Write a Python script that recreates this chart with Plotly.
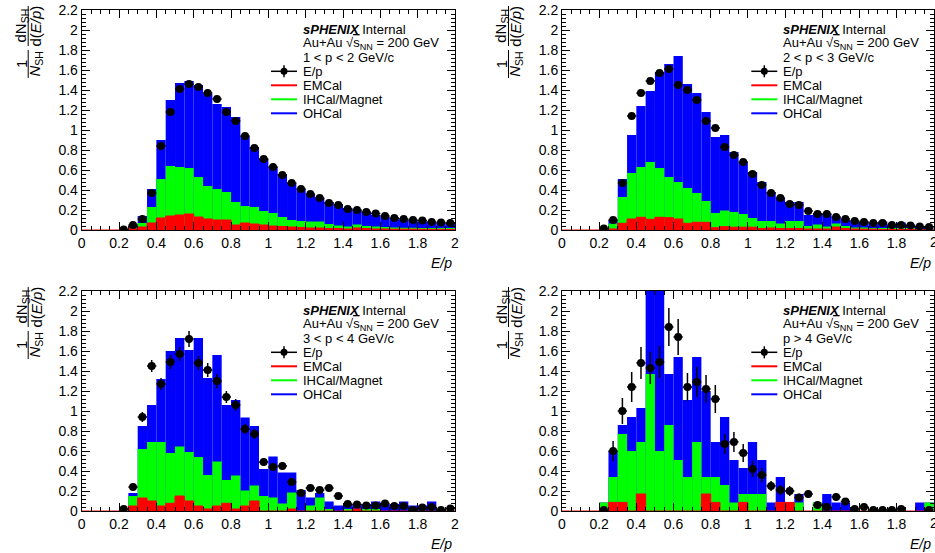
import plotly.graph_objects as go

W, H = 935, 553
bin_width = 0.05
n_bins = 40
bin_lo = [round(i * bin_width, 2) for i in range(n_bins)]
bin_centers = [round(b + bin_width / 2, 3) for b in bin_lo]
bin_edges = bin_lo + [2.0]

momentum_ranges = ["1 < p < 2 GeV/c", "2 < p < 3 GeV/c", "3 < p < 4 GeV/c", "p > 4 GeV/c"]

# ---------------- panel 1 : 1 < p < 2 ----------------
p1_emcal_top = [0, 0, 0, 0, 0, 0.02, 0.03, 0.07, 0.12, 0.14, 0.15, 0.16, 0.13, 0.11, 0.10,
                0.10, 0.05, 0.07, 0.06, 0.05, 0.04, 0.035, 0.03, 0.025, 0.02, 0.02, 0.015, 0.015, 0.01, 0.02,
                0.013, 0.01, 0.01, 0.008, 0.008, 0.008, 0.007, 0.006, 0.006, 0.005]
p1_emcal_ihcal_top = [0, 0, 0, 0, 0, 0.025, 0.07, 0.23, 0.51, 0.64, 0.63, 0.62, 0.53, 0.44, 0.41,
                      0.38, 0.28, 0.24, 0.23, 0.19, 0.17, 0.13, 0.10, 0.09, 0.085, 0.085, 0.06, 0.045, 0.035, 0.055,
                      0.04, 0.035, 0.03, 0.025, 0.022, 0.022, 0.02, 0.018, 0.016, 0.015]
p1_stack_top = [0, 0, 0, 0, 0, 0.045, 0.14, 0.41, 0.90, 1.30, 1.47, 1.49, 1.45, 1.36, 1.26,
                1.23, 1.13, 0.94, 0.83, 0.71, 0.63, 0.56, 0.47, 0.41, 0.36, 0.32, 0.28, 0.26, 0.22, 0.20,
                0.18, 0.15, 0.13, 0.12, 0.10, 0.10, 0.085, 0.075, 0.07, 0.07]
p1_ep = [None, None, None, None, 0.005, 0.05, 0.11, 0.37, 0.84, 1.18, 1.41, 1.46, 1.43, 1.37, 1.31,
         1.18, 1.09, 0.94, 0.82, 0.71, 0.63, 0.55, 0.47, 0.41, 0.36, 0.32, 0.27, 0.25, 0.21, 0.20,
         0.18, 0.165, 0.14, 0.12, 0.11, 0.10, 0.095, 0.08, 0.075, 0.07]
p1_ep_err = [0, 0, 0, 0, 0.003, 0.006, 0.008, 0.012, 0.016, 0.018, 0.02, 0.02, 0.02, 0.02, 0.02,
             0.018, 0.018, 0.016, 0.015, 0.014, 0.013, 0.012, 0.011, 0.01, 0.01, 0.009, 0.008, 0.008, 0.007, 0.007,
             0.007, 0.006, 0.006, 0.005, 0.005, 0.005, 0.005, 0.005, 0.004, 0.004]

# ---------------- panel 2 : 2 < p < 3 ----------------
p2_emcal_top = [0, 0, 0, 0, 0, 0.01, 0.067, 0.11, 0.127, 0.107, 0.127, 0.123, 0.11, 0.067, 0.077,
                0.077, 0.023, 0.033, 0.028, 0.028, 0.028, 0.015, 0.02, 0.015, 0.015, 0.015, 0.01, 0.01, 0.01, 0.03,
                0.015, 0.01, 0.008, 0.008, 0.005, 0.005, 0.005, 0.005, 0.004, 0.004]
p2_emcal_ihcal_top = [0, 0, 0, 0, 0, 0.065, 0.33, 0.57, 0.63, 0.68, 0.62, 0.53, 0.48, 0.42, 0.37,
                      0.29, 0.17, 0.195, 0.18, 0.16, 0.12, 0.09, 0.09, 0.065, 0.09, 0.09, 0.04, 0.055, 0.035, 0.065,
                      0.04, 0.025, 0.025, 0.02, 0.018, 0.015, 0.015, 0.012, 0.01, 0.01]
p2_stack_top = [0, 0, 0, 0, 0, 0.10, 0.51, 0.95, 1.24, 1.39, 1.58, 1.66, 1.74, 1.46, 1.37,
                1.18, 0.93, 0.95, 0.78, 0.68, 0.58, 0.48, 0.38, 0.32, 0.28, 0.28, 0.15, 0.17, 0.16, 0.13,
                0.10, 0.085, 0.085, 0.065, 0.085, 0.05, 0.075, 0.055, 0.04, 0.035]
p2_ep = [None, None, None, None, 0.015, 0.10, 0.47, 1.14, 1.37, 1.49, 1.57, 1.61, 1.45, 1.40, 1.30,
         1.09, 1.02, 0.83, 0.75, 0.68, 0.56, 0.45, 0.37, 0.32, 0.26, 0.25, 0.19, 0.16, 0.16, 0.13,
         0.11, 0.09, 0.08, 0.07, 0.07, 0.05, 0.05, 0.045, 0.035, 0.03]
p2_ep_err = [0, 0, 0, 0, 0.006, 0.01, 0.02, 0.03, 0.03, 0.03, 0.03, 0.035, 0.03, 0.03, 0.03,
             0.03, 0.03, 0.025, 0.025, 0.022, 0.02, 0.018, 0.016, 0.015, 0.013, 0.013, 0.012, 0.01, 0.01, 0.01,
             0.009, 0.008, 0.008, 0.007, 0.007, 0.006, 0.006, 0.006, 0.005, 0.005]

# ---------------- panel 3 : 3 < p < 4 ----------------
p3_emcal_top = [0, 0, 0, 0, 0, 0.05, 0.13, 0.10, 0.05, 0.077, 0.15, 0.10, 0.05, 0.02, 0.05,
                0.077, 0.02, 0.05, 0.10, 0, 0, 0, 0.02, 0, 0, 0, 0, 0, 0, 0.02,
                0, 0, 0, 0, 0, 0, 0, 0, 0, 0]
p3_emcal_ihcal_top = [0, 0, 0, 0, 0, 0.15, 0.62, 0.69, 0.69, 0.58, 0.645, 0.59, 0.54, 0.36, 0.495,
                      0.31, 0.355, 0.205, 0.255, 0.15, 0.135, 0.075, 0.185, 0, 0.055, 0.135, 0.02, 0, 0.02, 0.02,
                      0.02, 0.02, 0, 0, 0, 0, 0, 0, 0, 0]
p3_stack_top = [0, 0, 0, 0, 0, 0.18, 0.85, 1.06, 1.32, 1.60, 1.73, 1.61, 1.73, 1.33, 1.56,
                1.06, 1.11, 0.935, 0.85, 0.42, 0.545, 0.385, 0.385, 0.21, 0.135, 0.18, 0.095, 0.055, 0.07, 0.07,
                0.07, 0.095, 0.07, 0.07, 0.095, 0.055, 0.055, 0.095, 0, 0]
p3_ep = [None, None, None, None, 0.02, 0.24, 0.94, 1.45, 1.27, 1.49, 1.57, 1.72, 1.48, 1.41, 1.30,
         1.14, 1.06, 0.82, 0.77, 0.49, 0.44, 0.45, 0.29, 0.18, 0.23, 0.21, 0.23, 0.15, 0.07, 0.065,
         0.055, 0.055, 0.075, 0.05, 0.05, 0.01, 0.035, 0.04, 0.01, 0.025]
p3_ep_err = [0, 0, 0, 0, 0.01, 0.03, 0.05, 0.06, 0.06, 0.07, 0.07, 0.08, 0.07, 0.07, 0.07,
             0.06, 0.06, 0.05, 0.05, 0.04, 0.04, 0.04, 0.03, 0.025, 0.03, 0.025, 0.03, 0.025, 0.015, 0.015,
             0.015, 0.015, 0.015, 0.012, 0.012, 0.006, 0.01, 0.01, 0.006, 0.008]

# ---------------- panel 4 : p > 4 ----------------
p4_emcal_top = [0, 0, 0, 0, 0, 0.086, 0.086, 0, 0.17, 0, 0, 0, 0, 0, 0,
                0.17, 0.086, 0, 0, 0.086, 0, 0, 0, 0.086, 0.086, 0, 0, 0, 0, 0,
                0, 0, 0, 0, 0, 0, 0, 0, 0, 0]
p4_emcal_ihcal_top = [0, 0, 0, 0, 0.086, 0.34, 0.77, 0.60, 0.69, 1.37, 0.60, 0.86, 0.51, 0.34, 0.69,
                      0.34, 0.34, 0.26, 0.086, 0.17, 0.17, 0.17, 0, 0.086, 0.086, 0.086, 0, 0.086, 0, 0,
                      0, 0, 0, 0, 0, 0, 0, 0, 0, 0.086]
p4_stack_top = [0, 0, 0, 0, 0.086, 0.60, 0.86, 0.94, 1.03, 2.57, 2.40, 1.37, 1.54, 1.11, 1.54,
                1.20, 0.69, 0.94, 0.51, 0.43, 0.69, 0.51, 0.086, 0.34, 0.086, 0.17, 0, 0.086, 0.17, 0.086,
                0.086, 0, 0, 0, 0, 0, 0, 0, 0.086, 0.086]
p4_ep = [None, None, None, None, 0.01, 0.60, 1.00, 1.24, 1.48, 1.43, 1.49, 1.84, 1.74, 1.24, 1.29,
         1.22, 1.12, 0.67, 0.69, 0.58, 0.42, 0.36, 0.25, 0.21, 0.20, 0.135, 0.17, 0.06, 0.04, 0.14,
         0.095, 0.02, 0.04, 0.01, 0.01, 0.01, 0.02, None, None, 0.01]
p4_ep_err = [0, 0, 0, 0, 0.01, 0.10, 0.13, 0.15, 0.16, 0.16, 0.16, 0.19, 0.18, 0.14, 0.15,
             0.14, 0.14, 0.10, 0.10, 0.09, 0.08, 0.07, 0.05, 0.05, 0.05, 0.04, 0.04, 0.03, 0.02, 0.04,
             0.03, 0.02, 0.02, 0.01, 0.01, 0.01, 0.015, 0, 0, 0.01]

panels_data = [
    (p1_emcal_top, p1_emcal_ihcal_top, p1_stack_top, p1_ep, p1_ep_err),
    (p2_emcal_top, p2_emcal_ihcal_top, p2_stack_top, p2_ep, p2_ep_err),
    (p3_emcal_top, p3_emcal_ihcal_top, p3_stack_top, p3_ep, p3_ep_err),
    (p4_emcal_top, p4_emcal_ihcal_top, p4_stack_top, p4_ep, p4_ep_err),
]

RED, GREEN, BLUE = "#ff0000", "#00ff00", "#0000ff"
FONT = "Liberation Sans, Arial, Helvetica, sans-serif"

# pixel frames of the four pads (left, right, top, bottom)
frames = [
    (81.7, 455.0, 10, 230),
    (562.0, 933.7, 10, 230),
    (81.7, 455.0, 291, 511),
    (562.0, 933.7, 291, 511),
]


def px(x):
    return x / W


def py(y):
    return 1 - y / H


fig = go.Figure()
layout_axes = {}
annotations = []
shapes = []

for k, (emc, emc_ih, tot, ep, ep_err) in enumerate(panels_data):
    n = "" if k == 0 else str(k + 1)
    xa, ya = "x" + n, "y" + n
    for vals, col in ((tot, BLUE), (emc_ih, GREEN), (emc, RED)):
        fig.add_trace(go.Bar(x=bin_centers, y=vals, width=bin_width, marker=dict(color=col, line=dict(width=0)),
                             opacity=1, xaxis=xa, yaxis=ya, showlegend=False, hoverinfo="skip"))
    # EMCal histogram outline (visible along zero)
    fig.add_trace(go.Scatter(x=bin_edges, y=emc + [emc[-1]], mode="lines", line=dict(color=RED, width=1, shape="hv"),
                             xaxis=xa, yaxis=ya, showlegend=False, hoverinfo="skip"))
    fig.add_trace(go.Scatter(x=bin_centers, y=ep, mode="markers",
                             marker=dict(color="black", size=8, symbol="circle"),
                             error_y=dict(type="data", array=ep_err, color="black", thickness=1.5, width=0),
                             error_x=dict(type="constant", value=bin_width / 2, color="black", thickness=1.5, width=0),
                             xaxis=xa, yaxis=ya, showlegend=False))

    L, R, T, B = frames[k]
    common = dict(showline=True, linecolor="black", linewidth=1, mirror="ticks", ticks="inside", ticklen=8,
                  tickwidth=1, tickcolor="black", showgrid=False, zeroline=False, fixedrange=True,
                  automargin=False, tickfont=dict(family=FONT, size=14, color="black"))
    layout_axes["xaxis" + n] = dict(common, domain=[px(L), px(R)], range=[0, 2], tick0=0, dtick=0.2,
                                    minor=dict(dtick=0.05, ticklen=4, ticks="inside", tickcolor="black", showgrid=False),
                                    anchor=ya)
    layout_axes["yaxis" + n] = dict(common, domain=[py(B), py(T)], range=[0, 2.2], tick0=0, dtick=0.2,
                                    minor=dict(dtick=0.04, ticklen=4, ticks="inside", tickcolor="black", showgrid=False),
                                    anchor=xa)
    if k in (1, 3):
        # last tick label, cut by the right edge of the canvas as in the original
        annotations.append(dict(x=2, xref=xa, y=py(B + 11.5), yref="paper", text="2", showarrow=False,
                                xanchor="center", yanchor="middle", font=dict(family=FONT, size=14, color="black")))

    # legend / labels
    tx = L + 219.3
    rows = [T + 19.3 + 14 * i for i in range(7)]
    texts = ["<b><i>sPHENIX</i></b> Internal",
             "Au+Au \u221a<span style='text-decoration:overline'>s</span><sub>NN</sub> = 200 GeV",
             momentum_ranges[k], "E/p", "EMCal", "IHCal/Magnet", "OHCal"]
    for t, yy in zip(texts, rows):
        annotations.append(dict(x=px(tx), y=py(yy), xref="paper", yref="paper", text=t, showarrow=False,
                                xanchor="left", yanchor="middle", font=dict(family=FONT, size=13, color="black")))
    lx0, lx1 = L + 189.3, L + 215.3
    for yy, col in zip(rows[3:], ["black", RED, GREEN, BLUE]):
        shapes.append(dict(type="line", xref="paper", yref="paper", x0=px(lx0), x1=px(lx1), y0=py(yy), y1=py(yy),
                           line=dict(color=col, width=2 if col != "black" else 1.5)))
    mx = (lx0 + lx1) / 2
    shapes.append(dict(type="circle", xref="paper", yref="paper", x0=px(mx - 3.5), x1=px(mx + 3.5),
                       y0=py(rows[3] + 3.5), y1=py(rows[3] - 3.5), fillcolor="black", line=dict(color="black", width=0)))
    shapes.append(dict(type="line", xref="paper", yref="paper", x0=px(mx), x1=px(mx), y0=py(rows[3] - 6),
                       y1=py(rows[3] + 6), line=dict(color="black", width=1.5)))

    # x title
    annotations.append(dict(x=px(R - 1), y=py(B + 33), xref="paper", yref="paper", text="<i>E/p</i>",
                            showarrow=False, xanchor="right", yanchor="middle",
                            font=dict(family=FONT, size=14, color="black")))
    # y title as two stacked fractions
    for t, dx, dy in (("dN<sub>SH</sub>", -60.2, 16), ("d(<i>E/p</i>)", -46.2, 16),
                      ("1", -59.7, 54), ("<i>N</i><sub>SH</sub>", -46.2, 54)):
        annotations.append(dict(x=px(L + dx), y=py(T + dy), xref="paper", yref="paper", text=t, showarrow=False,
                                textangle=-90, xanchor="center", yanchor="middle",
                                font=dict(family=FONT, size=15, color="black")))
    for y0, y1 in ((-4, 36), (40, 68)):
        shapes.append(dict(type="line", xref="paper", yref="paper", x0=px(L - 53.5), x1=px(L - 53.5),
                           y0=py(T + y0), y1=py(T + y1), line=dict(color="black", width=1)))

fig.update_layout(template="none", width=W, height=H, margin=dict(l=0, r=0, t=0, b=0, pad=0),
                  paper_bgcolor="white", plot_bgcolor="white", barmode="overlay", showlegend=False,
                  annotations=annotations, shapes=shapes, **layout_axes)

fig.write_html("out.html", config={"displayModeBar": False},
               post_script="document.body.style.margin='0';document.body.style.overflow='hidden';")
